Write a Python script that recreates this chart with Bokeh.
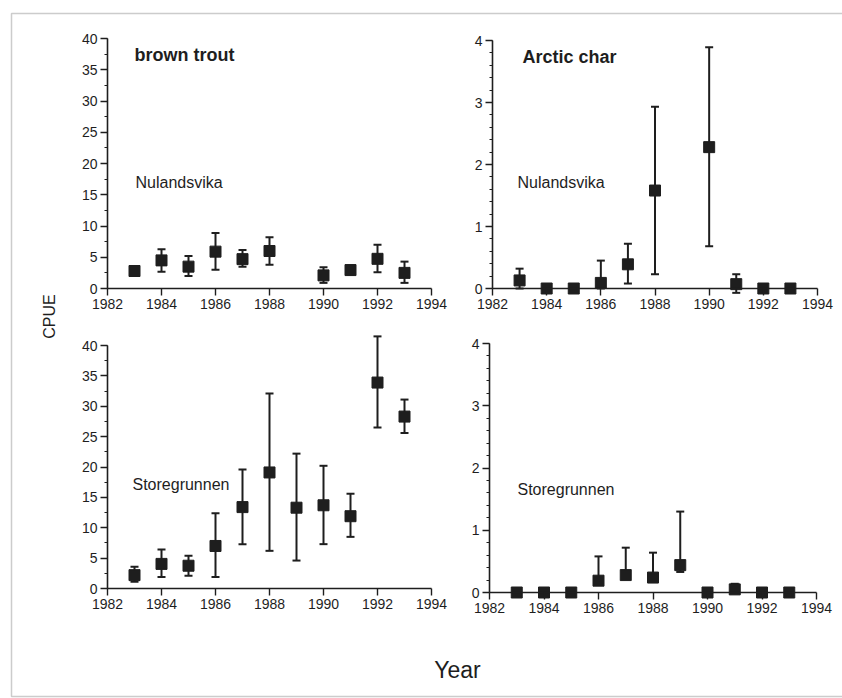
from bokeh.plotting import figure
from bokeh.models import (ColumnDataSource, Range1d, LinearAxis, SingleIntervalTicker,
                          Whisker, TeeHead, Label, BoxAnnotation)
from bokeh.embed import file_html
from bokeh.resources import INLINE

# ---- data: catch per unit effort (mean with error bar limits) ----
years_nul = [1983, 1984, 1985, 1986, 1987, 1988, 1990, 1991, 1992, 1993]
years_sto = [1983, 1984, 1985, 1986, 1987, 1988, 1989, 1990, 1991, 1992, 1993]

trout_nul = [2.8, 4.5, 3.5, 5.9, 4.7, 6.0, 2.1, 2.95, 4.75, 2.5]
trout_nul_lo = [2.0, 2.7, 2.0, 3.0, 3.5, 3.8, 0.9, 2.2, 2.6, 0.9]
trout_nul_hi = [3.6, 6.3, 5.2, 8.9, 6.15, 8.2, 3.4, 3.7, 7.0, 4.3]

char_nul = [0.13, 0.0, 0.0, 0.09, 0.39, 1.58, 2.28, 0.07, 0.0, 0.0]
char_nul_lo = [0.0, 0.0, 0.0, 0.0, 0.08, 0.23, 0.68, -0.07, 0.0, 0.0]
char_nul_hi = [0.32, 0.0, 0.0, 0.45, 0.72, 2.93, 3.89, 0.23, 0.0, 0.0]

trout_sto = [2.2, 4.05, 3.75, 7.0, 13.4, 19.1, 13.3, 13.7, 11.9, 33.9, 28.3]
trout_sto_lo = [1.1, 1.9, 2.1, 1.9, 7.3, 6.2, 4.6, 7.3, 8.5, 26.5, 25.6]
trout_sto_hi = [3.6, 6.4, 5.4, 12.4, 19.6, 32.1, 22.2, 20.2, 15.6, 41.5, 31.1]

char_sto = [0.0, 0.0, 0.0, 0.19, 0.28, 0.24, 0.44, 0.0, 0.05, 0.0, 0.0]
char_sto_lo = [0.0, 0.0, 0.0, 0.19, 0.28, 0.24, 0.33, 0.0, 0.0, 0.0, 0.0]
char_sto_hi = [0.0, 0.0, 0.0, 0.58, 0.72, 0.64, 1.30, 0.0, 0.14, 0.0, 0.0]

W, H = 842, 698
FONT = "Liberation Sans"
INK = "#1e1e1e"

# Whole page is one canvas measured in pixels from the top-left corner.
p = figure(width=W, height=H, x_range=Range1d(0, W), y_range=Range1d(H, 0),
           x_axis_type=None, y_axis_type=None, toolbar_location=None,
           output_backend="svg", min_border=0, outline_line_color=None)
p.background_fill_color = "white"
p.border_fill_color = "white"


def span_range(v0, v1, p0, p1, total):
    """Range whose values v0, v1 land on canvas pixels p0, p1 (left to right)."""
    k = (v1 - v0) / (p1 - p0)
    return Range1d(v0 - p0 * k, v0 + (total - p0) * k)


def panel(name, xpix, ypix, ymax, y_interval, y_minor, years, val, lo, hi):
    # xpix: pixels of 1982 and 1994; ypix: pixels of 0 and ymax (from top)
    xr, yr = "x_" + name, "y_" + name
    p.extra_x_ranges[xr] = span_range(1982, 1994, xpix[0], xpix[1], W)
    k = ymax / (ypix[1] - ypix[0])
    p.extra_y_ranges[yr] = Range1d((H - ypix[0]) * k, (0 - ypix[0]) * k)

    yax = LinearAxis(x_range_name=xr, y_range_name=yr, fixed_location=1982,
                     bounds=(0, ymax),
                     ticker=SingleIntervalTicker(interval=y_interval, num_minor_ticks=y_minor))
    xax = LinearAxis(x_range_name=xr, y_range_name=yr, fixed_location=0,
                     bounds=(1982, 1994),
                     ticker=SingleIntervalTicker(interval=2, num_minor_ticks=0))
    for ax in (yax, xax):
        ax.axis_line_color = INK
        ax.axis_line_width = 1.6
        ax.major_tick_line_color = INK
        ax.major_tick_line_width = 1.4
        ax.minor_tick_line_color = INK
        ax.minor_tick_line_width = 1.2
        ax.major_tick_in = 0
        ax.major_tick_out = 7
        ax.minor_tick_in = 0
        ax.minor_tick_out = 3
        ax.major_label_text_font = FONT
        ax.major_label_text_font_size = "14px"
        ax.major_label_text_color = INK
        ax.major_label_standoff = 3
    p.add_layout(yax, "left")
    p.add_layout(xax, "below")

    src = ColumnDataSource(dict(x=years, y=val, lo=lo, hi=hi))
    p.add_layout(Whisker(source=src, base="x", lower="lo", upper="hi", dimension="height",
                         line_color=INK, line_width=2,
                         upper_head=TeeHead(size=8, line_color=INK, line_width=2),
                         lower_head=TeeHead(size=8, line_color=INK, line_width=2),
                         x_range_name=xr, y_range_name=yr))
    p.scatter("x", "y", source=src, marker="square", size=11,
              fill_color=INK, line_color=INK, x_range_name=xr, y_range_name=yr)


panel("tl", (107, 431), (288, 38), 40, 5, 2, years_nul, trout_nul, trout_nul_lo, trout_nul_hi)
panel("tr", (492, 817), (288, 40), 4, 1, 5, years_nul, char_nul, char_nul_lo, char_nul_hi)
panel("bl", (107, 431), (588, 345), 40, 5, 2, years_sto, trout_sto, trout_sto_lo, trout_sto_hi)
panel("br", (489, 816), (592, 343), 4, 1, 5, years_sto, char_sto, char_sto_lo, char_sto_hi)


def label(x, y, text, size, bold=False, **kw):
    p.add_layout(Label(x=x, y=y, text=text, text_font=FONT, text_font_size=size,
                       text_color=INK, text_font_style="bold" if bold else "normal",
                       text_baseline=kw.pop("baseline", "alphabetic"),
                       text_align=kw.pop("align", "left"), **kw))


label(134, 54, "brown trout", "18px", bold=True)
label(522, 56, "Arctic char", "18px", bold=True)
label(135, 182, "Nulandsvika", "16px")
label(517, 182, "Nulandsvika", "16px")
label(132, 484, "Storegrunnen", "16px")
label(517, 489, "Storegrunnen", "16px")
label(457, 669, "Year", "23px", align="center")
label(49, 316, "CPUE", "16px", align="center", baseline="middle", angle=1.5708)

# page border
p.add_layout(BoxAnnotation(left=11, right=W + 20, top=13, bottom=696,
                           fill_alpha=0, line_color="#555555", line_width=1.5))

open("out.html", "w").write(file_html(p, INLINE))
